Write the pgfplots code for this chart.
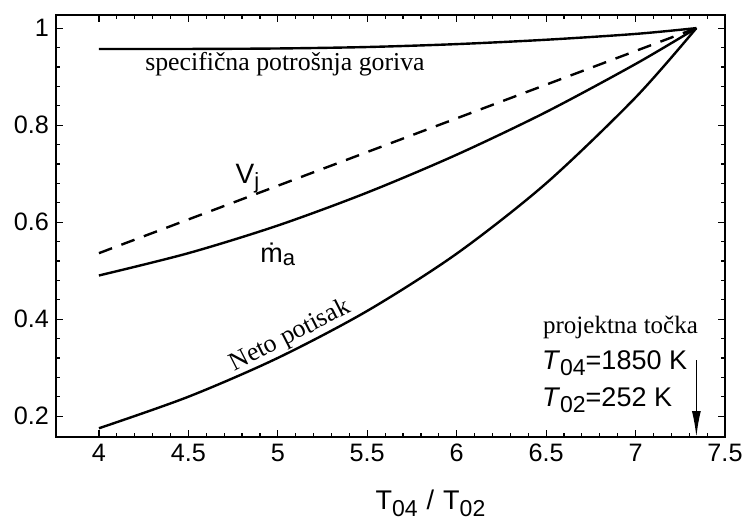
\documentclass[border=0pt]{standalone}
\usepackage{fontspec}
\setmainfont{Liberation Sans}
\newfontfamily\serif{Liberation Serif}
\usepackage{pgfplots}
\pgfplotsset{compat=1.18}
\usetikzlibrary{arrows.meta}

\begin{document}
\begin{tikzpicture}
\useasboundingbox (-28pt,-47pt) rectangle (344.5pt,218.5pt);
\begin{axis}[
    scale only axis,
    width=334.5pt,
    height=211pt,
    at={(0,0)},
    anchor=south west,
    xmin=3.76, xmax=7.5,
    ymin=0.157, ymax=1.027,
    xtick={4,4.5,5,5.5,6,6.5,7,7.5},
    ytick={0.2,0.4,0.6,0.8,1},
    minor x tick num=4,
    minor y tick num=4,
    tick align=inside,
    major tick length=3.5pt,
    minor tick length=1.8pt,
    axis line style={line width=1pt},
    every tick/.style={black, line width=0.6pt},
    tick label style={font=\fontsize{12.6}{14}\selectfont},
    /pgf/number format/assume math mode=true,
    /pgf/number format/fixed,
    xlabel={T\raisebox{-0.5ex}{\fontsize{11.5}{13}\selectfont 04}\,\,/\,\,T\raisebox{-0.5ex}{\fontsize{11.5}{13}\selectfont 02}},
    xlabel style={font=\fontsize{13.5}{15}\selectfont, xshift=20pt, yshift=-7pt},
    clip=false,
]
% specificna potrosnja goriva
\addplot[black, line width=1.2pt, smooth] coordinates {
    (4,0.957) (4.5,0.957) (5,0.958) (5.5,0.961) (6,0.967) (6.5,0.976) (7,0.988) (7.34,1.0)
};
% V_j
\addplot[black, line width=1.2pt, dash pattern=on 7pt off 5pt] coordinates {
    (4,0.536) (5,0.675) (6,0.814) (7.34,1.0)
};
% m_a
\addplot[black, line width=1.2pt, smooth] coordinates {
    (4,0.49) (4.5,0.536) (5,0.593) (5.5,0.661) (6,0.739) (6.5,0.827) (7,0.926) (7.34,1.0)
};
% neto potisak
\addplot[black, line width=1.2pt, smooth] coordinates {
    (4,0.175) (4.5,0.240) (5,0.320) (5.5,0.417) (6,0.535) (6.5,0.680) (7,0.857) (7.34,1.0)
};
% projektna tocka
\addplot[black, line width=0.8pt, -{Latex[length=13pt,width=4.5pt]}] coordinates {(7.34,0.315) (7.34,0.157)};

\node[font=\serif\fontsize{12.9}{15}\selectfont] at (axis cs:5.04,0.925) {specifična potrošnja goriva};
\node[font=\fontsize{14}{16}\selectfont] at (axis cs:4.83,0.69) {V\raisebox{-0.3ex}{\fontsize{11}{13}\selectfont j}};
\node[font=\fontsize{13.5}{15}\selectfont] at (axis cs:5.0,0.533) {\.{m}\raisebox{-0.2ex}{\fontsize{11}{13}\selectfont a}};
\node[font=\serif\fontsize{12.9}{15}\selectfont, rotate=27] at (axis cs:5.07,0.365) {Neto potisak};
\node[font=\serif\fontsize{12.5}{15}\selectfont] at (axis cs:6.916,0.383) {projektna točka};
\node[font=\fontsize{13.5}{16}\selectfont, anchor=west, inner sep=0pt] at (axis cs:6.475,0.309) {\textit{T}\raisebox{-0.45ex}{\fontsize{11.5}{14}\selectfont 04}=1850 K};
\node[font=\fontsize{13.5}{16}\selectfont, anchor=west, inner sep=0pt] at (axis cs:6.475,0.233) {\textit{T}\raisebox{-0.45ex}{\fontsize{11.5}{14}\selectfont 02}=252 K};
\end{axis}
\end{tikzpicture}
\end{document}
